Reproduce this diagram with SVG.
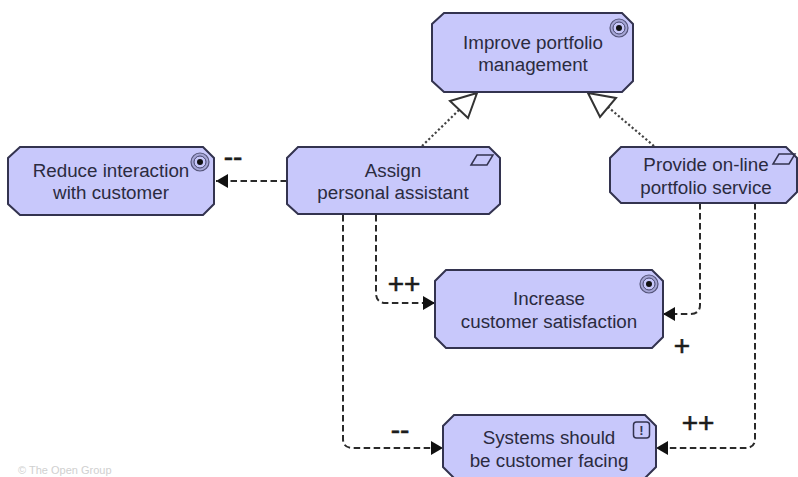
<svg xmlns="http://www.w3.org/2000/svg" width="798" height="477" viewBox="0 0 798 477">
<style>
.n{fill:#c8c8fb;stroke:#33334f;stroke-width:2}
text{font-family:"Liberation Sans",Arial,sans-serif}
.t{font-size:18.800px;fill:#2b2b3f;text-anchor:middle}
.s{font-size:28px;fill:#1c1c1c;stroke:#1c1c1c;stroke-width:.6;text-anchor:middle}
.d{fill:none;stroke:#2a2a2a;stroke-width:2;stroke-dasharray:6.500 3.500}
.o{fill:none;stroke:#444;stroke-width:2.200;stroke-dasharray:2.200 2.300}
.h{fill:#fff;stroke:#333;stroke-width:2}
.i{fill:none;stroke:#33334f;stroke-width:1.500}
</style>
<defs>
<marker id="a" markerUnits="userSpaceOnUse" markerWidth="13" markerHeight="14" refX="12" refY="7" orient="auto"><path d="M0 0L12 7L0 14Z" fill="#111"/></marker>
<g id="goal"><circle r="9" fill="#a5a5d5" stroke="#55557a" stroke-width="1.200"/><circle r="6" fill="#c8c8fb" stroke="#44446a" stroke-width="1"/><circle r="3" fill="#111"/></g>
<path id="para" d="M-11 5L-5 -5H11L5 5Z" class="i"/>
</defs>
<g id="connectors">
<path class="d" d="M287 181H216" marker-end="url(#a)"/>
<path class="d" d="M376 215V293Q376 303 386 303H435" marker-end="url(#a)"/>
<path class="d" d="M343 215V439Q343 448 353 448H443" marker-end="url(#a)"/>
<path class="d" d="M700 203V305Q700 314 690 314H663" marker-end="url(#a)"/>
<path class="d" d="M755 203V439Q755 448 745 448H656" marker-end="url(#a)"/>
<path class="o" d="M422 146L459 110"/>
<path class="h" d="M477 93L450 101L468 118Z"/>
<path class="o" d="M654 146L608 107"/>
<path class="h" d="M588 93L616 98L600 117Z"/>
</g>
<g id="improve"><path class="n" d="M444 13H622L633 24V81L622 92H444L432 81V24Z"/><use href="#goal" x="619" y="28"/><text class="t" x="533" y="49">Improve portfolio</text><text class="t" x="533" y="71">management</text></g>
<g id="reduce"><path class="n" d="M20 147H203L214 158V204L203 215H20L8 204V158Z"/><use href="#goal" x="200" y="162"/><text class="t" x="111" y="177">Reduce interaction</text><text class="t" x="111" y="199">with customer</text></g>
<g id="assign"><path class="n" d="M298 147H489L500 158V204L489 214H298L287 204V158Z"/><use href="#para" x="482" y="160"/><text class="t" x="393" y="177">Assign</text><text class="t" x="393" y="199">personal assistant</text></g>
<g id="provide"><path class="n" d="M621 147H786L797 158V192L786 203H621L610 192V158Z"/><use href="#para" x="784" y="159"/><text class="t" x="706" y="171">Provide on-line</text><text class="t" x="706" y="194">portfolio service</text></g>
<g id="increase"><path class="n" d="M446 270H652L663 281V337L652 348H446L435 337V281Z"/><use href="#goal" x="649" y="284"/><text class="t" x="549" y="305">Increase</text><text class="t" x="549" y="328">customer satisfaction</text></g>
<g id="systems"><path class="n" d="M454 415H645L656 426V467L645 478H454L443 467V426Z"/><rect class="i" x="633.500" y="422" width="16" height="16" rx="3"/><text x="641.500" y="435" font-size="13" font-weight="bold" fill="#33334f" text-anchor="middle">!</text><text class="t" x="549" y="444">Systems should</text><text class="t" x="549" y="467">be customer facing</text></g>
<g id="labels">
<text class="s" x="233" y="166">--</text>
<text class="s" x="404" y="293">++</text>
<text class="s" x="682" y="355">+</text>
<text class="s" x="400" y="439">--</text>
<text class="s" x="698" y="432">++</text>
<text x="18" y="474" font-size="11" fill="#d0d0d0">© The Open Group</text>
</g>
</svg>
